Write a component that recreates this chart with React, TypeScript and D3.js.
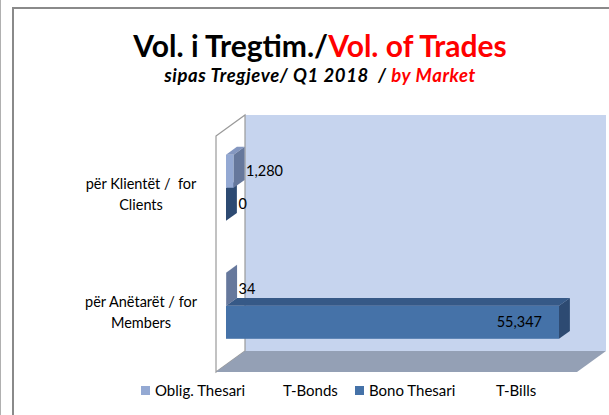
import React from "react";
import * as d3 from "d3";

const categories = ["Clients", "Members"];
const categoryLines = [
  ["për Klientët /  for", "Clients"],
  ["për Anëtarët / for", "Members"],
];
const seriesNames = ["Oblig. Thesari", "Bono Thesari"];
const seriesCodes = ["T-Bonds", "T-Bills"];
const tBonds = [1280, 34];
const tBills = [0, 55347];
const valueMax = 60000;

const W = 609;
const H = 415;
const FONT = "Lato, 'Open Sans', sans-serif";

// 3D frame geometry
const FX0 = 216;
const FX1 = 577;
const FY0 = 136;
const FY1 = 372;
const DX = 29;
const DY = -21;
const F0 = 0.345;
const F1 = 0.72;

const seriesColors = [
  { front: "#94A9D3", top: "#8497C0", side: "#66789C" },
  { front: "#4572A8", top: "#365987", side: "#2D4A72" },
];

const fmt = d3.format(",");

export default function App() {
  const x = d3.scaleLinear().domain([0, valueMax]).range([FX0, FX1]);
  const y = d3
    .scaleBand<string>()
    .domain(categories)
    .range([FY0, FY1])
    .paddingInner(0.44)
    .paddingOuter(0.22);
  const sub = d3
    .scaleBand<number>()
    .domain([0, 1])
    .range([0, y.bandwidth()]);

  const values = [tBonds, tBills];
  const ox = F0 * DX;
  const oy = F0 * DY;
  const bdx = (F1 - F0) * DX;
  const bdy = (F1 - F0) * DY;

  const pts = (p: number[][]) => p.map((q) => q.join(",")).join(" ");

  const bars: JSX.Element[] = [];
  const labels: JSX.Element[] = [];
  for (let ci = categories.length - 1; ci >= 0; ci--) {
    for (let si = 1; si >= 0; si--) {
      const v = values[si][ci];
      const c = seriesColors[si];
      const xl = x(0) + ox;
      const xr = x(v) + ox;
      const yt = (y(categories[ci]) as number) + sub(si)! + oy;
      const yb = yt + sub.bandwidth();
      const key = `${ci}-${si}`;
      bars.push(
        <g key={key}>
          {xr - xl > 0.01 && (
            <>
              <rect x={xl} y={yt} width={xr - xl} height={yb - yt} fill={c.front} />
              <polygon
                points={pts([
                  [xl, yt],
                  [xr, yt],
                  [xr + bdx, yt + bdy],
                  [xl + bdx, yt + bdy],
                ])}
                fill={c.top}
              />
            </>
          )}
          <polygon
            points={pts([
              [xr, yt],
              [xr + bdx, yt + bdy],
              [xr + bdx, yb + bdy],
              [xr, yb],
            ])}
            fill={c.side}
          />
        </g>
      );
      const cy = (yt + yb) / 2;
      if (v > 20000) {
        labels.push(
          <text key={"l" + key} x={xr - 17} y={cy} dy="0.35em" textAnchor="end" fontSize={14.5} fill="#000">
            {fmt(v)}
          </text>
        );
      } else {
        labels.push(
          <text key={"l" + key} x={xr + bdx + 1.5} y={cy} dy="0.35em" fontSize={14.5} fill="#000">
            {fmt(v)}
          </text>
        );
      }
    }
  }

  const legendItems = [
    { sq: 141, tx: 155, code: 283 },
    { sq: 355, tx: 369, code: 496 },
  ];

  return (
    <svg
      width={W}
      height={H}
      style={{ position: "absolute", left: 0, top: 0, fontFamily: FONT }}
    >
      <rect x={0} y={0} width={W} height={H} fill="#fff" />
      <line x1={0.5} y1={0} x2={0.5} y2={H} stroke="#b0b0b0" strokeWidth={1} />
      <rect x={13} y={8} width={700} height={500} fill="#fff" stroke="#8a8a8a" strokeWidth={2} />

      {/* title */}
      <text x={320} y={57} textAnchor="middle" fontSize={30} fontWeight="bold">
        <tspan fill="#000">Vol. i Tregtim./</tspan>
        <tspan fill="#FF0000">Vol. of Trades</tspan>
      </text>
      <text
        x={320}
        y={82}
        textAnchor="middle"
        fontSize={18.5}
        fontWeight="bold"
        fontStyle="italic"
        letterSpacing={0.6}
        style={{ whiteSpace: "pre" }}
      >
        <tspan fill="#000">{"sipas Tregjeve/ Q1 2018  / "}</tspan>
        <tspan fill="#FF0000">by Market</tspan>
      </text>

      {/* back wall */}
      <rect x={FX0 + DX} y={FY0 + DY} width={FX1 - FX0} height={FY1 - FY0} fill="#C6D4EE" />
      {/* left wall */}
      <polygon
        points={pts([
          [FX0, FY0],
          [FX0 + DX, FY0 + DY],
          [FX0 + DX, FY1 + DY],
          [FX0, FY1],
        ])}
        fill="#fff"
        stroke="#9a9a9a"
        strokeWidth={1.2}
      />
      {/* floor */}
      <polygon
        points={pts([
          [FX0, FY1],
          [FX1, FY1],
          [FX1 + DX, FY1 + DY],
          [FX0 + DX, FY1 + DY],
        ])}
        fill="#94A0B5"
      />

      {bars}
      {labels}

      {/* category labels */}
      {categories.map((c, i) => {
        const cy = (y(c) as number) + y.bandwidth() / 2;
        return (
          <text key={c} x={141} textAnchor="middle" fontSize={14.5} fill="#000" style={{ whiteSpace: "pre" }}>
            <tspan x={141} y={cy - 6}>
              {categoryLines[i][0]}
            </tspan>
            <tspan x={141} y={cy + 15}>
              {categoryLines[i][1]}
            </tspan>
          </text>
        );
      })}

      {/* legend */}
      {legendItems.map((li, i) => (
        <g key={i}>
          <rect x={li.sq} y={386} width={9} height={9} fill={seriesColors[i].front} />
          <text x={li.tx} y={396} fontSize={15} fill="#000">
            {seriesNames[i]}
          </text>
          <text x={li.code} y={396} fontSize={15} fill="#000">
            {seriesCodes[i]}
          </text>
        </g>
      ))}
    </svg>
  );
}
